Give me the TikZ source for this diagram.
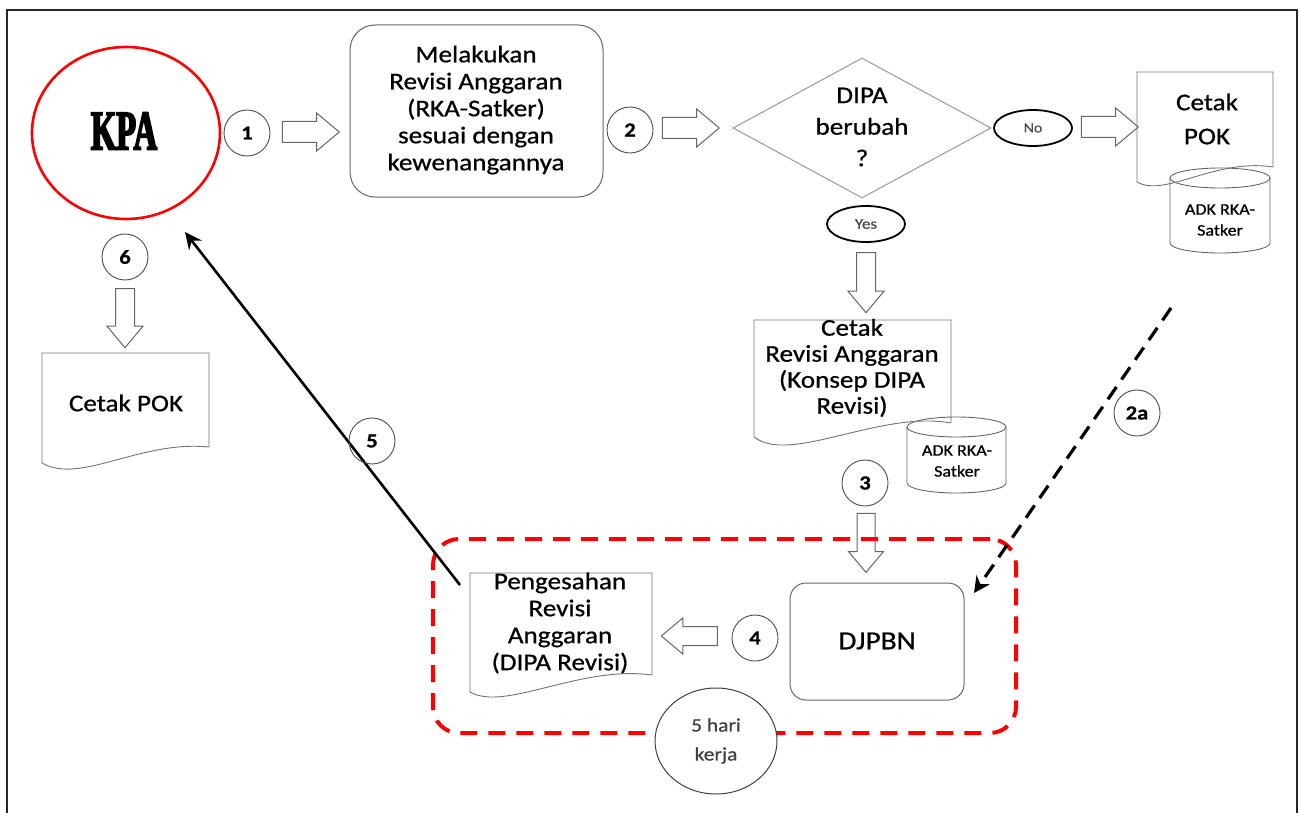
\documentclass[tikz,border=0pt]{standalone}
\usepackage{fontspec}
\setmainfont[FakeStretch=1.13,FakeBold=0.7]{Carlito}
\newfontfamily\kpafont[FakeStretch=0.58,FakeBold=3]{Liberation Serif}
\usetikzlibrary{shapes.geometric,shapes.arrows,arrows.meta}
\tikzset{
  num/.style={circle, draw=black!70, line width=0.9pt, inner sep=0pt, minimum size=46pt, font=\fontsize{20}{22}\selectfont\bfseries},
  barrow/.style={single arrow, draw=black!60, fill=white, line width=1pt, inner sep=9pt,
    single arrow head extend=8.5pt, single arrow tip angle=80, minimum height=#1},
  docline/.style={draw=black!55, line width=0.9pt},
  cylline/.style={draw=black!60, line width=0.9pt},
  txt/.style={align=center, inner sep=0pt},
  main/.style={font=\fontsize{24}{27}\selectfont},
  small/.style={font=\fontsize{16}{21}\selectfont},
  yn/.style={ellipse, draw=black, line width=1.8pt, minimum width=78pt, minimum height=36pt, inner sep=0pt, text=black!70},
  roundbox/.style={draw=black!60, line width=1pt, fill=white},
}
\begin{document}
\begin{tikzpicture}[x=1pt,y=-1pt]
\useasboundingbox (0,0) rectangle (1300,813);
% frame
\draw[line width=2pt, black!85] (7,815) -- (7,10) -- (1297,10) -- (1297,815);

% KPA
\node[ellipse, draw=red, line width=2.6pt, minimum width=188pt, minimum height=172pt, inner sep=0pt] (kpa) at (126,133) {};
\node[txt] (kpat) at (124,131) {\kpafont\bfseries\fontsize{56}{56}\selectfont KPA};

% step 1
\node[num] (c1) at (247,133) {1};
\node[barrow=57, inner sep=10pt] (a1) at (304.5,132) {};
\node[roundbox, rounded corners=25pt, minimum width=253pt, minimum height=172pt] (box1) at (476.5,111) {};
\node[txt, main] (box1t) at (476,110) {Melakukan\\Revisi Anggaran\\(RKA-Satker)\\sesuai dengan\\kewenangannya};

% step 2
\node[num] (c2) at (630,130) {2};
\node[barrow=57, inner sep=10pt] (a2) at (684.5,128) {};
\node[diamond, draw=black!40, line width=1pt, minimum width=258pt, minimum height=140pt, inner sep=0pt] (dec) at (862,128) {};
\node[txt, font=\fontsize{24}{31.5}\selectfont] (dect) at (862,127) {DIPA\\berubah\\?};

% No branch
\node[yn, font=\fontsize{14}{16}\selectfont] (no) at (1033,128) {No};
\node[barrow=57, inner sep=10pt] (a3) at (1103.5,127) {};
\draw[cylline] (1170,178) -- (1170,243) arc[start angle=180, end angle=0, x radius=50, y radius=10] -- (1270,178);
\draw[cylline] (1220,178) ellipse[x radius=50, y radius=10];
\node[txt, small] (cylRt) at (1220,220) {ADK RKA-\\Satker};
\draw[docline] (1273,167) -- (1273,72) -- (1137,72) -- (1137,182) .. controls (1165,198) and (1215,158) .. (1273,167);
\node[txt, font=\fontsize{24}{34}\selectfont] (docRt) at (1207,119) {Cetak\\POK};

% Yes branch
\node[yn, font=\fontsize{15}{17}\selectfont] (yes) at (866,224) {Yes};
\node[barrow=60, rotate=-90] (a4) at (866,277) {};
\draw[cylline] (907,427) -- (907,483) arc[start angle=180, end angle=0, x radius=49.5, y radius=10] -- (1006,427);
\draw[cylline] (956.5,427) ellipse[x radius=49.5, y radius=10];
\node[txt, small] (cylMt) at (957,461) {ADK RKA-\\Satker};
\draw[docline] (951,423) -- (951,320) -- (754,320) -- (754,437) .. controls (790,465) and (880,410) .. (951,423);
\node[txt, font=\fontsize{24}{26}\selectfont] (docMt) at (852,368) {Cetak\\Revisi Anggaran\\(Konsep DIPA\\Revisi)};

% step 3
\node[num] (c3) at (865,483) {3};
\node[barrow=59, rotate=-90, inner sep=8.5pt] (a5) at (866,537.5) {};
\node[roundbox, rounded corners=16pt, minimum width=174pt, minimum height=117pt] (djpbn) at (877,641.5) {};
\node[txt, font=\fontsize{26}{28}\selectfont] (djpbnt) at (877,641) {DJPBN};

% step 4
\node[num] (c4) at (755,638) {4};
\node[barrow=56, rotate=180] (a6) at (695,636) {};
\draw[docline] (652,675) -- (652,573) -- (470,573) -- (470,692) .. controls (505,712) and (580,665) .. (652,675);
\node[txt, font=\fontsize{24}{27}\selectfont] (docPt) at (560,623) {Pengesahan\\Revisi\\Anggaran\\(DIPA Revisi)};

% group box
\node[draw=red, line width=4pt, dash pattern=on 17pt off 11pt, rounded corners=26pt, minimum width=583pt, minimum height=194pt, inner sep=0pt] (grp) at (724.5,636) {};
\node[ellipse, draw=black!75, line width=1pt, fill=white, minimum width=122pt, minimum height=106pt, inner sep=0pt, align=center, text=black!75, font=\fontsize{19}{29}\selectfont] (hari) at (716,741) {5 hari\\kerja};

% step 2a
\coordinate (s2a) at (1171,308);
\coordinate (e2a) at (974,593);
\draw[line width=3.2pt, dash pattern=on 15pt off 9pt, -{Stealth[length=16pt, width=16pt, inset=5pt]}] (s2a) -- (e2a);
\node[num] (c2a) at (1137,413) {2a};

% step 5
\coordinate (s5) at (460,585);
\coordinate (e5) at (185,232);
\draw[line width=2.6pt, -{Stealth[length=17pt, width=16pt, inset=6pt]}] (s5) -- (e5);
\node[num] (c5) at (372,441) {5};

% step 6
\node[num] (c6) at (125,257) {6};
\node[barrow=59, rotate=-90] (a7) at (125,312.5) {};
\draw[docline] (209,447) -- (209,353) -- (42,353) -- (42,463) .. controls (80,485) and (140,440) .. (209,447);
\node[txt, font=\fontsize{24}{27}\selectfont] (docLt) at (126,403) {Cetak POK};
\end{tikzpicture}
\end{document}
